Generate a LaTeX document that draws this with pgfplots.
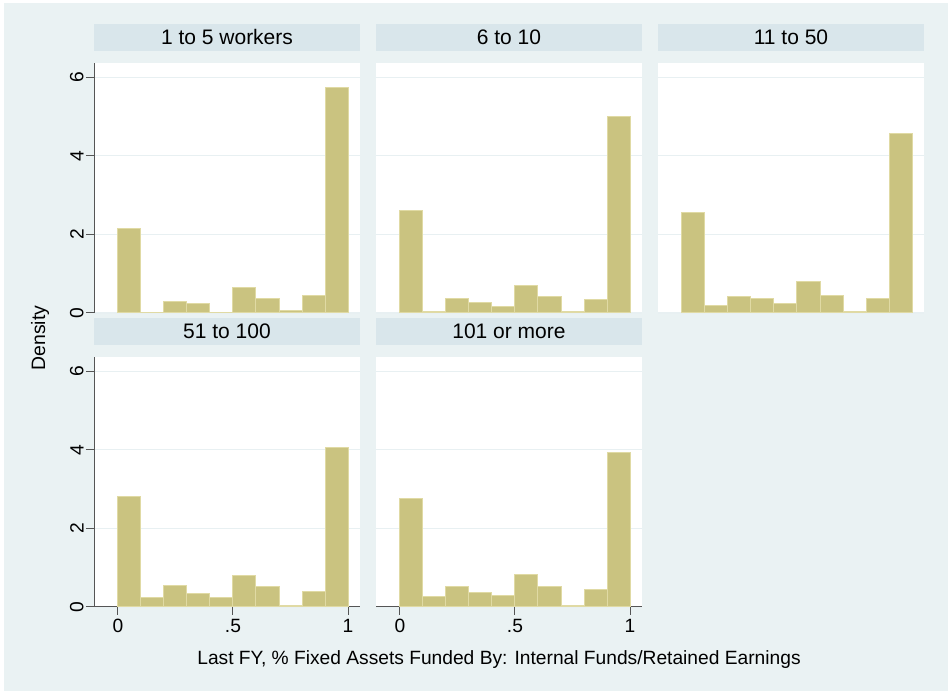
\documentclass[border=0pt]{standalone}
\usepackage{pgfplots}
\pgfplotsset{compat=1.18}
\usepackage{fontspec}
\setmainfont{Liberation Sans}
\definecolor{bgcol}{RGB}{234,242,243}
\definecolor{stripcol}{RGB}{217,230,235}
\definecolor{gridcol}{RGB}{232,240,242}
\definecolor{barfill}{RGB}{202,195,128}
\definecolor{barline}{RGB}{224,218,164}
\definecolor{axcol}{RGB}{85,85,85}

\pgfplotsset{
  panel/.style={
    scale only axis, width=133pt, height=125pt,
    xmin=-0.104, xmax=1.052, ymin=0, ymax=6.36,
    axis background/.style={fill=white},
    axis lines*=left, axis line style={draw=axcol, line width=0.5pt},
    ytick={0,2,4,6}, xtick={0,0.5,1}, xticklabels={0,.5,1},
    ymajorgrids, major grid style={draw=gridcol, line width=0.6pt},
    tick align=outside, major tick length=4pt,
    tick style={draw=axcol, line width=0.5pt},
    /pgf/number format/assume math mode=true,
    tick label style={font=\fontsize{9.6}{11}\selectfont},
    yticklabel style={rotate=90, anchor=south, inner sep=1pt},
    xticklabel style={inner sep=1pt, yshift=-1pt},
    title style={at={(0.5,1)}, anchor=south, fill=stripcol, minimum width=133pt,
      minimum height=13.5pt, inner sep=0pt, yshift=0pt,
      font=\fontsize{10.5}{12}\selectfont},
  },
  noy/.style={y axis line style={draw=none}, ytick style={draw=none}, yticklabels={,,,,}},
  nox/.style={x axis line style={draw=none}, xtick=\empty},
  bars/.style={ybar interval, fill=barfill, draw=barline, line width=0.5pt},
}

\begin{document}
\begin{tikzpicture}
\fill[white] (0pt,0pt) rectangle (474pt,-345.5pt);
\fill[bgcol] (2pt,-1.5pt) rectangle (474pt,-345.5pt);

% 1 to 5 workers
\begin{axis}[panel, nox, at={(47pt,-31.5pt)}, anchor=north west, title={1 to 5 workers}]
\addplot[bars] coordinates {(0,2.14) (0.1,0.02) (0.2,0.28) (0.3,0.25) (0.4,0.02) (0.5,0.66) (0.6,0.37) (0.7,0.07) (0.8,0.45) (0.9,5.73) (1,0)};
\end{axis}

% 6 to 10
\begin{axis}[panel, nox, noy, at={(188pt,-31.5pt)}, anchor=north west, title={6 to 10}]
\addplot[bars] coordinates {(0,2.61) (0.1,0.05) (0.2,0.38) (0.3,0.26) (0.4,0.16) (0.5,0.69) (0.6,0.42) (0.7,0.03) (0.8,0.35) (0.9,4.99) (1,0)};
\end{axis}

% 11 to 50
\begin{axis}[panel, nox, noy, at={(329pt,-31.5pt)}, anchor=north west, title={11 to 50}]
\addplot[bars] coordinates {(0,2.55) (0.1,0.19) (0.2,0.42) (0.3,0.36) (0.4,0.25) (0.5,0.81) (0.6,0.44) (0.7,0.03) (0.8,0.37) (0.9,4.57) (1,0)};
\end{axis}

% 51 to 100
\begin{axis}[panel, at={(47pt,-178.5pt)}, anchor=north west, title={51 to 100}]
\addplot[bars] coordinates {(0,2.81) (0.1,0.25) (0.2,0.54) (0.3,0.34) (0.4,0.23) (0.5,0.80) (0.6,0.51) (0.7,0.03) (0.8,0.40) (0.9,4.05) (1,0)};
\end{axis}

% 101 or more
\begin{axis}[panel, noy, at={(188pt,-178.5pt)}, anchor=north west, title={101 or more}]
\addplot[bars] coordinates {(0,2.75) (0.1,0.27) (0.2,0.53) (0.3,0.38) (0.4,0.29) (0.5,0.83) (0.6,0.51) (0.7,0.03) (0.8,0.45) (0.9,3.93) (1,0)};
\end{axis}

\node[rotate=90, font=\fontsize{9.7}{11}\selectfont] at (20pt,-169pt) {Density};
\node[font=\fontsize{9.6}{11}\selectfont] at (249.5pt,-330pt) {Last FY, \% Fixed Assets Funded By: Internal Funds/Retained Earnings};
\end{tikzpicture}
\end{document}
